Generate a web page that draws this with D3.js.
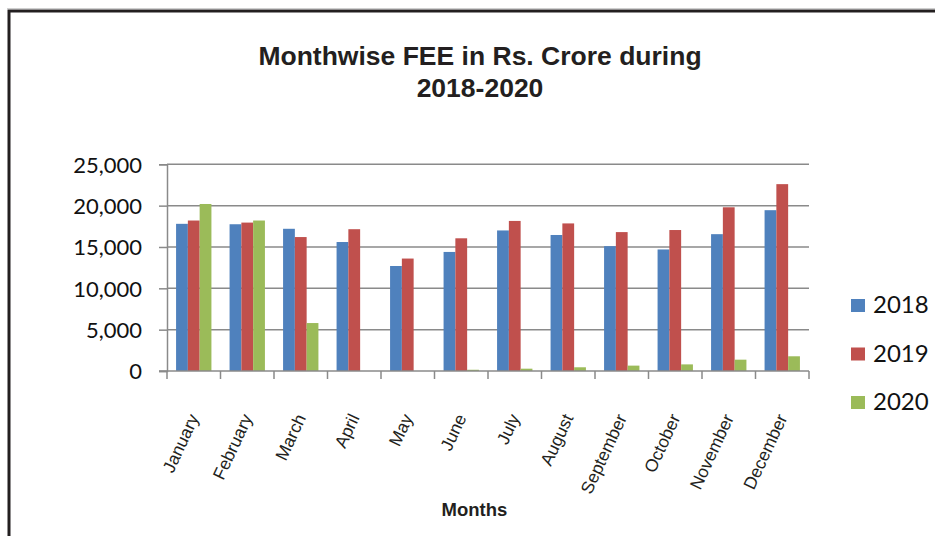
<!DOCTYPE html>
<html>
<head>
<meta charset="utf-8">
<script src="https://cdn.jsdelivr.net/npm/d3@7"></script>
<style>
  html, body { margin: 0; padding: 0; background: #ffffff; }
  svg { display: block; }
</style>
</head>
<body>
<svg id="chart" width="935" height="536"></svg>
<script>
const months = ["January", "February", "March", "April", "May", "June", "July",
  "August", "September", "October", "November", "December"];
const seriesNames = ["2018", "2019", "2020"];
const values2018 = [17800, 17750, 17200, 15600, 12700, 14400, 17000, 16450, 15100, 14700, 16550, 19450];
const values2019 = [18200, 17950, 16200, 17150, 13600, 16050, 18150, 17850, 16800, 17050, 19800, 22600];
const values2020 = [20200, 18200, 5800, 0, 0, 150, 280, 450, 650, 800, 1370, 1780];
const yTicks = [0, 5000, 10000, 15000, 20000, 25000];
const colors = ["#4f81bd", "#c0504d", "#9bbb59"];
const titleLines = ["Monthwise FEE in Rs. Crore during", "2018-2020"];
const xTitle = "Months";

const seriesValues = [values2018, values2019, values2020];

const svg = d3.select("#chart");
svg.append("rect").attr("width", 935).attr("height", 536).attr("fill", "#fff");

// frame
svg.append("line").attr("x1", 7).attr("x2", 935).attr("y1", 8.5).attr("y2", 8.5)
  .attr("stroke", "#cfcfcf").attr("stroke-width", 1);
svg.append("path").attr("d", "M9,536 V11 H935")
  .attr("fill", "none").attr("stroke", "#231f20").attr("stroke-width", 3);

const x = d3.scaleBand().domain(months).range([167, 809]).paddingInner(0).paddingOuter(0);
const xs = d3.scaleBand().domain(seriesNames).range([0, x.bandwidth()]).paddingInner(0).paddingOuter(0.77);
const y = d3.scaleLinear().domain([0, 25000]).range([371, 164.3]);

const gridColor = "#8a8a8a";

// gridlines
svg.append("g")
  .selectAll("line").data(yTicks.filter(d => d > 0)).join("line")
  .attr("x1", 167).attr("x2", 809)
  .attr("y1", d => y(d)).attr("y2", d => y(d))
  .attr("stroke", gridColor).attr("stroke-width", 1.5);

// bars
const groups = svg.append("g").selectAll("g").data(seriesNames).join("g")
  .attr("fill", (d, i) => colors[i]);
groups.selectAll("rect")
  .data((s, si) => months.map((m, mi) => ({ m, s, v: seriesValues[si][mi] })))
  .join("rect")
  .attr("x", d => x(d.m) + xs(d.s))
  .attr("width", xs.bandwidth())
  .attr("y", d => y(d.v))
  .attr("height", d => y(0) - y(d.v));

// y axis
const yAxis = svg.append("g").attr("transform", "translate(167,0)")
  .call(d3.axisLeft(y).tickValues(yTicks).tickSize(8).tickPadding(17)
    .tickFormat(d3.format(",")));
yAxis.select(".domain").attr("stroke", gridColor).attr("stroke-width", 1.5);
yAxis.selectAll(".tick line").attr("stroke", gridColor).attr("stroke-width", 1.5);
yAxis.selectAll(".tick text")
  .attr("font-family", "Lato, 'Open Sans', sans-serif")
  .attr("font-size", 22).attr("fill", "#111").attr("dy", "0.36em");

// x axis line and boundary ticks
svg.append("line").attr("x1", 159).attr("x2", 809).attr("y1", y(0)).attr("y2", y(0))
  .attr("stroke", gridColor).attr("stroke-width", 1.5);
const bounds = months.map(m => x(m)).concat([x(months[months.length - 1]) + x.bandwidth()]);
svg.append("g").selectAll("line").data(bounds).join("line")
  .attr("x1", d => d).attr("x2", d => d)
  .attr("y1", y(0)).attr("y2", y(0) + 8)
  .attr("stroke", gridColor).attr("stroke-width", 1.5);

// x labels
svg.append("g").selectAll("text").data(months).join("text")
  .attr("transform", d => `translate(${x(d) + x.bandwidth() / 2},415) rotate(-65)`)
  .attr("text-anchor", "end").attr("dy", "0.35em")
  .attr("font-family", "'Liberation Sans', Arial, sans-serif")
  .attr("font-size", 17.5).attr("fill", "#231f20")
  .text(d => d);

// x title
svg.append("text").attr("x", 474.5).attr("y", 515.5).attr("text-anchor", "middle")
  .attr("font-family", "'Liberation Sans', Arial, sans-serif").attr("font-weight", "bold")
  .attr("font-size", 18.5).attr("fill", "#231f20").text(xTitle);

// title
svg.append("g").selectAll("text").data(titleLines).join("text")
  .attr("x", 480).attr("y", (d, i) => 64.5 + i * 32)
  .attr("text-anchor", "middle")
  .attr("font-family", "'Liberation Sans', Arial, sans-serif").attr("font-weight", "bold")
  .attr("font-size", 26.5).attr("fill", "#231f20").text(d => d);

// legend
const legend = svg.append("g").selectAll("g").data(seriesNames).join("g")
  .attr("transform", (d, i) => `translate(851,${313 + i * 48.5})`);
legend.append("rect").attr("x", 0).attr("y", -14).attr("width", 14).attr("height", 13)
  .attr("fill", (d, i) => colors[i]);
legend.append("text").attr("x", 22).attr("y", 0)
  .attr("font-family", "Lato, 'Open Sans', sans-serif")
  .attr("font-size", 24).attr("fill", "#111").text(d => d);
</script>
</body>
</html>
